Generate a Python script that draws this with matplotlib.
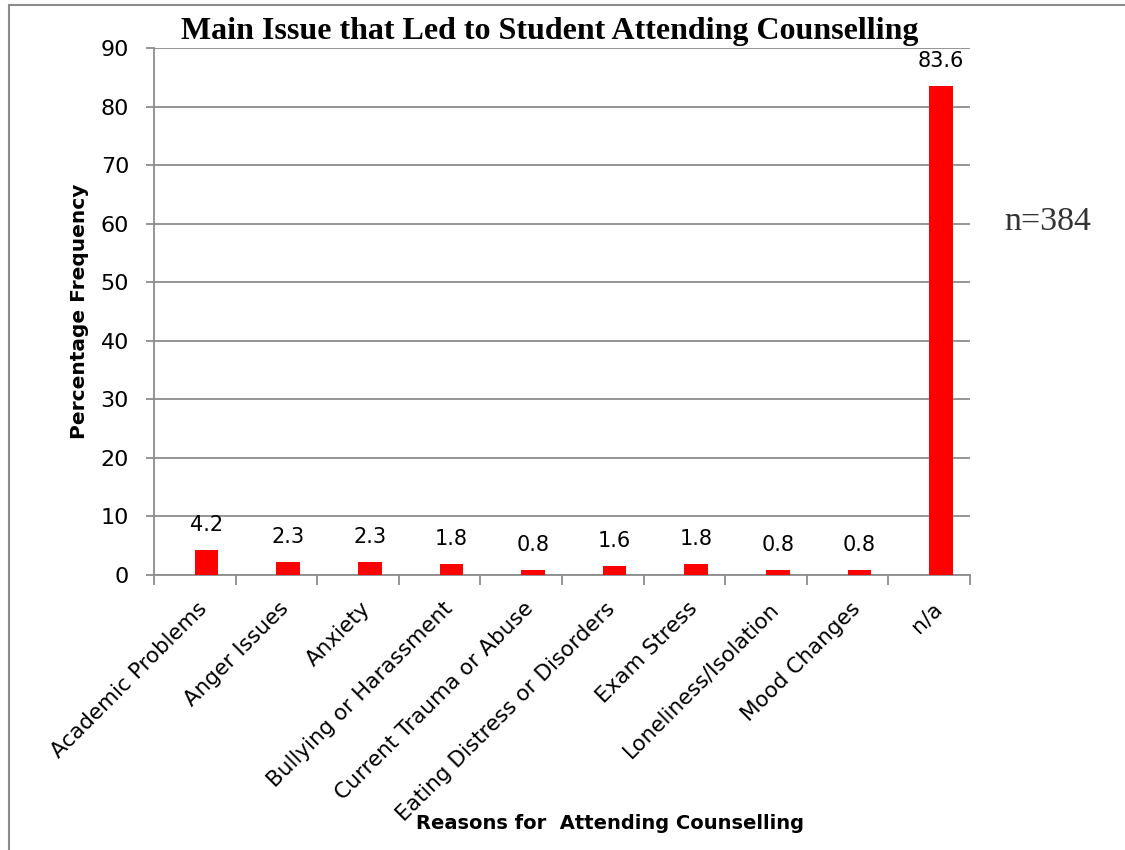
import matplotlib.pyplot as plt
from matplotlib.lines import Line2D

reasons = ["Academic Problems", "Anger Issues", "Anxiety", "Bullying or Harassment",
           "Current Trauma or Abuse", "Eating Distress or Disorders", "Exam Stress",
           "Loneliness/Isolation", "Mood Changes", "n/a"]
percentages = [4.2, 2.3, 2.3, 1.8, 0.8, 1.6, 1.8, 0.8, 0.8, 83.6]
y_ticks = list(range(0, 100, 10))

plt.rcParams['font.family'] = ['DejaVu Sans']
grey = '#8c8c8c'

fig = plt.figure(figsize=(11.25, 8.5), dpi=100)
ax = fig.add_axes([0.1369, 0.3235, 0.7253, 0.62])

# bars start at the category centre, like the original Excel chart
xs = list(range(len(reasons)))
ax.bar(xs, percentages, width=0.29, align='edge', color='#ff0000', zorder=3)
for x, v in zip(xs, percentages):
    ax.annotate(f"{v}", (x + 0.145, v), xytext=(0, 18), textcoords='offset points',
                ha='center', va='center', fontsize=15)

ax.set_xlim(-0.5, len(reasons) - 0.5)
ax.set_ylim(0, 90)
ax.set_yticks(y_ticks)
ax.tick_params(axis='y', labelsize=16, length=6, width=1.3, color=grey, pad=12)
ax.yaxis.grid(True, color=grey, linewidth=1.3, zorder=0)

# category boundaries carry the ticks, labels sit at the centres
ax.set_xticks([i - 0.5 for i in range(len(reasons) + 1)])
ax.set_xticklabels([])
ax.tick_params(axis='x', length=7, width=1.3, color=grey)
for x, name in zip(xs, reasons):
    ax.text(x + 0.03, -4.0, name, rotation=45, ha='right', va='top',
            rotation_mode='anchor', fontsize=15.5)

for side in ['top', 'right']:
    ax.spines[side].set_visible(False)
for side in ['left', 'bottom']:
    ax.spines[side].set_color(grey)
    ax.spines[side].set_linewidth(1.3)

ax.set_ylabel("Percentage Frequency", fontsize=14.5, fontweight='bold', labelpad=8)
fig.text(0.542, 0.031, "Reasons for  Attending Counselling", ha='center', va='center',
         fontsize=14, fontweight='bold')

fig.text(0.489, 0.963, "Main Issue that Led to Student Attending Counselling",
         ha='center', va='center', fontsize=23, fontweight='bold',
         family=['Liberation Serif', 'DejaVu Serif'])
fig.text(0.931, 0.739, "n=384", ha='center', va='center', fontsize=24.5,
         color='#333333', family=['Liberation Serif', 'DejaVu Serif'])

# outer frame of the chart area
fig.add_artist(Line2D([0.008, 0.008], [0.0, 0.994], color=grey, linewidth=1.5))
fig.add_artist(Line2D([0.008, 1.0], [0.994, 0.994], color=grey, linewidth=1.5))

fig.savefig("out.png", dpi=100)
